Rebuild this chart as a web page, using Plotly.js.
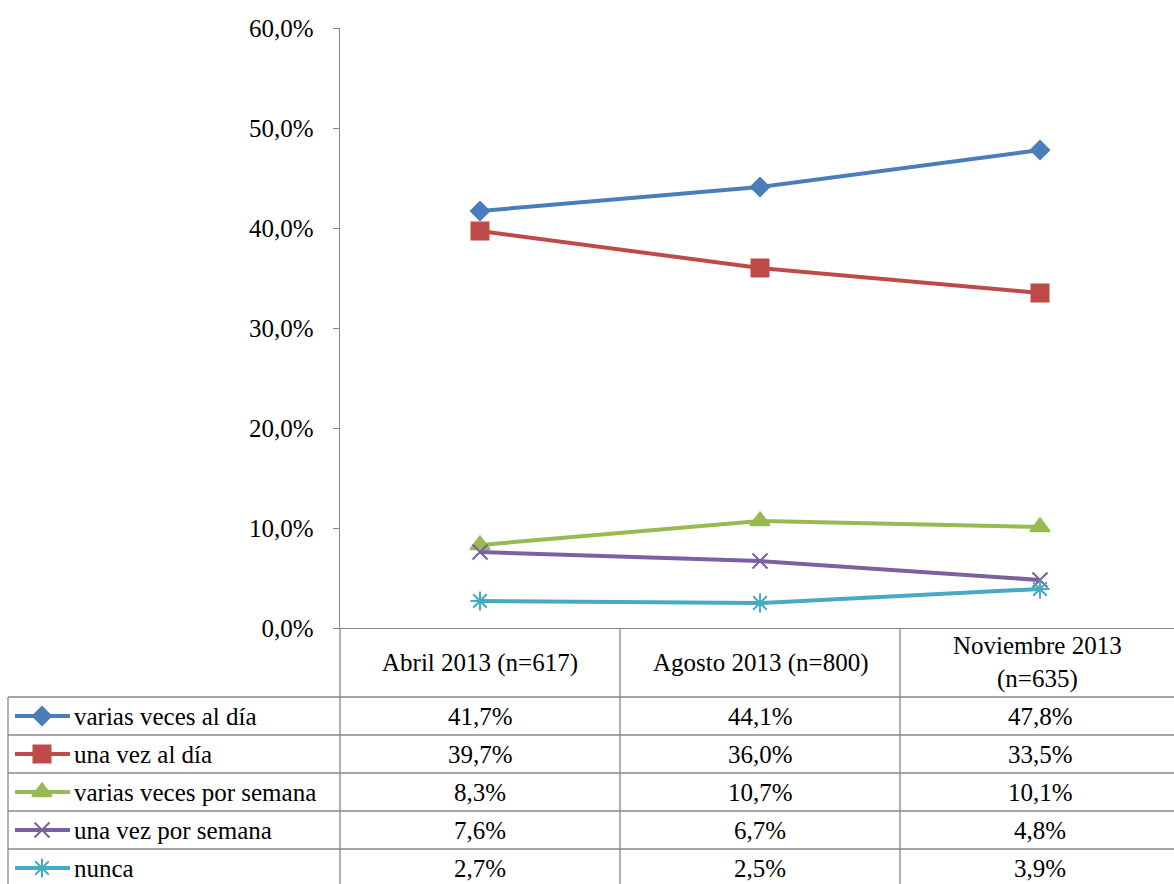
<!DOCTYPE html>
<html>
<head>
<meta charset="utf-8">
<script src="https://cdn.plot.ly/plotly-3.0.1.min.js"></script>
<style>body{margin:0;background:#fff}#chart{width:1174px;height:884px}</style>
</head>
<body>
<div id="chart"></div>
<script>
var categories = ['Abril 2013 (n=617)', 'Agosto 2013 (n=800)', 'Noviembre 2013<br>(n=635)'];
var seriesNames = ['varias veces al día', 'una vez al día', 'varias veces por semana', 'una vez por semana', 'nunca'];
var variasDia = [41.7, 44.1, 47.8];
var unaDia = [39.7, 36.0, 33.5];
var variasSemana = [8.3, 10.7, 10.1];
var unaSemana = [7.6, 6.7, 4.8];
var nunca = [2.7, 2.5, 3.9];
var yTicks = [0, 10, 20, 30, 40, 50, 60];
var yTickText = ['0,0%', '10,0%', '20,0%', '30,0%', '40,0%', '50,0%', '60,0%'];

var values = [variasDia, unaDia, variasSemana, unaSemana, nunca];
var colors = ['#4A7EBB', '#BE4B48', '#98B954', '#7D60A0', '#46AAC5'];
var symbols = ['diamond', 'square', 'triangle-up', 'x-thin-open', 'asterisk-open'];
var sizes = [14, 17, 17, 15, 16];
var font = {family: 'Liberation Serif', size: 25, color: '#000'};
var W = 1174, H = 884;
var idx = [0, 1, 2];

var traces = [];
values.forEach(function(v, i) {
  traces.push({
    x: idx, y: v, type: 'scatter', mode: 'lines+markers', name: seriesNames[i],
    line: {color: colors[i], width: 4},
    marker: {symbol: symbols[i], size: sizes[i], color: colors[i], line: {color: colors[i], width: 2}},
    showlegend: false, hoverinfo: 'skip'
  });
});

var colX = [340, 620, 900, 1180];
var rowY = [628, 697, 735, 773, 811, 849, 887];

seriesNames.forEach(function(n, i) {
  var yc = (rowY[i + 1] + rowY[i + 2]) / 2;
  traces.push({x: [15, 70], y: [yc, yc], xaxis: 'x2', yaxis: 'y2', type: 'scatter', mode: 'lines',
    line: {color: colors[i], width: 4}, showlegend: false, hoverinfo: 'skip'});
  traces.push({x: [42], y: [yc], xaxis: 'x2', yaxis: 'y2', type: 'scatter', mode: 'markers',
    marker: {symbol: symbols[i], size: sizes[i], color: colors[i], line: {color: colors[i], width: 2}},
    showlegend: false, hoverinfo: 'skip'});
});

var shapes = [];
var ann = [];
var lineStyle = {color: '#888', width: 1.3};
function seg(x0, y0, x1, y1) {
  shapes.push({type: 'line', xref: 'x2', yref: 'y2', x0: x0, y0: y0, x1: x1, y1: y1, line: lineStyle});
}
seg(340, 628, 340, H);
seg(620, 628, 620, H);
seg(900, 628, 900, H);
seg(8, 697, 8, H);
for (var r = 1; r < rowY.length - 1; r++) seg(8, rowY[r], W, rowY[r]);

categories.forEach(function(c, j) {
  ann.push({xref: 'x2', yref: 'y2', x: (colX[j] + colX[j + 1]) / 2 - (j == 2 ? 3 : 0), y: (rowY[0] + rowY[1]) / 2,
    text: c, showarrow: false, font: font});
});
seriesNames.forEach(function(n, i) {
  var yc = (rowY[i + 1] + rowY[i + 2]) / 2;
  ann.push({xref: 'x2', yref: 'y2', x: 72, y: yc, xanchor: 'left', text: n, showarrow: false, font: font});
  values[i].forEach(function(v, j) {
    ann.push({xref: 'x2', yref: 'y2', x: (colX[j] + colX[j + 1]) / 2, y: yc,
      text: v.toFixed(1).replace('.', ',') + '%', showarrow: false, font: font});
  });
});

var layout = {
  width: W, height: H, margin: {l: 0, r: 0, t: 0, b: 0},
  paper_bgcolor: '#fff', plot_bgcolor: 'rgba(0,0,0,0)',
  font: font,
  xaxis: {domain: [340 / W, 1], range: [-0.5, 2.5 - 6 / 280], showgrid: false, zeroline: false,
    showticklabels: false, showline: true, linecolor: '#888', linewidth: 1.3, ticks: ''},
  yaxis: {domain: [256 / H, 1 - 28 / H], range: [0, 60], tickmode: 'array', tickvals: yTicks, ticktext: yTickText,
    showgrid: false, zeroline: false, showline: true, linecolor: '#888', linewidth: 1.3,
    ticks: 'outside', ticklen: 6, tickcolor: '#888', tickfont: font, ticklabelstandoff: 14},
  xaxis2: {domain: [0, 1], range: [0, W], visible: false, fixedrange: true},
  yaxis2: {domain: [0, 1], range: [H, 0], visible: false, fixedrange: true, anchor: 'x2'},
  shapes: shapes, annotations: ann
};
Plotly.newPlot('chart', traces, layout, {displayModeBar: false, staticPlot: true});
</script>
</body>
</html>
